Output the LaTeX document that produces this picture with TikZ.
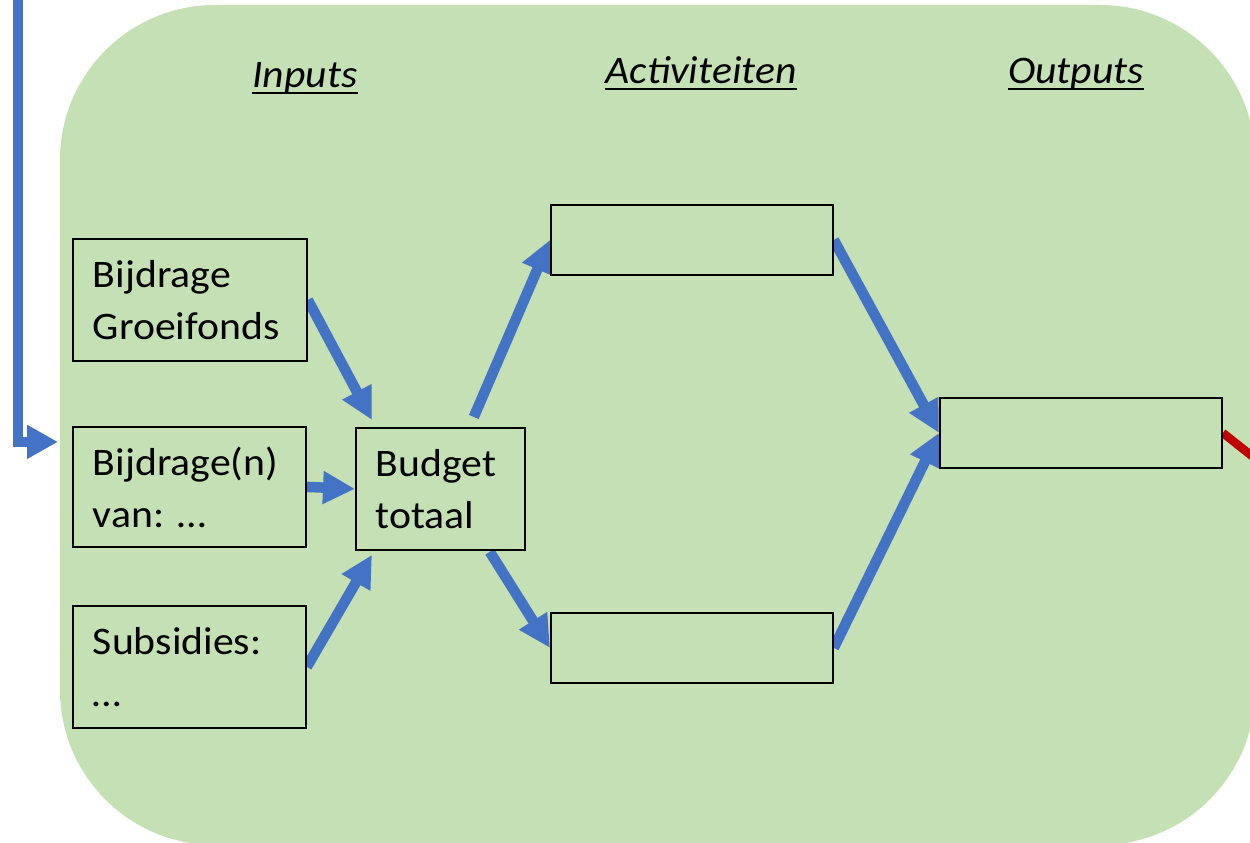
\documentclass[tikz,border=0pt]{standalone}
\usepackage{fontspec}
\setmainfont{Carlito}[FakeStretch=1.07]
\usetikzlibrary{arrows.meta,calc}
\definecolor{lgreen}{HTML}{C5E0B4}
\definecolor{mblue}{HTML}{4472C4}
\definecolor{dred}{HTML}{C00000}
\pgfdeclarelayer{back}
\pgfdeclarelayer{mid}
\pgfsetlayers{back,mid,main}
\begin{document}
\begin{tikzpicture}[x=1pt,y=-1pt,
  box/.style={draw=black,line width=1.8pt,fill=lgreen,anchor=north west,inner xsep=20pt,inner ysep=0pt,align=left,font=\fontsize{39}{52}\selectfont},
  arr/.style={draw=mblue,line width=10.5pt,-{Triangle[length=32pt,width=31pt]}},
  ttl/.style={font=\fontsize{39}{47}\selectfont\itshape,inner sep=0pt,anchor=base},
  uline/.style={draw=black,line width=2.2pt}]
\useasboundingbox (0,0) rectangle (1250,843);
\begin{pgfonlayer}{back}
\clip (0,0) rectangle (1250,843);
\fill[lgreen, rounded corners=155pt] (60,5) rectangle (1255,845);
\end{pgfonlayer}

% titles
\node[ttl] (ti) at (305,87) {Inputs};
\draw[uline] ($(ti.base west)+(0,6)$) -- ($(ti.base east)+(0,6)$);
\node[ttl] (ta) at (701,83) {Activiteiten};
\draw[uline] ($(ta.base west)+(0,6)$) -- ($(ta.base east)+(0,6)$);
\node[ttl] (to) at (1076,83) {Outputs};
\draw[uline] ($(to.base west)+(0,6)$) -- ($(to.base east)+(0,6)$);

% boxes
\node[box, minimum width=234pt, minimum height=122pt, text width=194pt] (g) at (72,238) {Bijdrage\\Groeifonds};
\node[box, minimum width=233pt, minimum height=120pt, text width=193pt] (b2) at (72,426) {Bijdrage(n)\\van:~…};
\node[box, minimum width=233pt, minimum height=122pt, text width=193pt] (s) at (72,605) {Subsidies:\\…};
\node[box, minimum width=169pt, minimum height=122pt, text width=129pt] (b) at (355,427) {Budget\\totaal};
\node[box, minimum width=282pt, minimum height=70pt, text width=242pt] (a1) at (550,204) {};
\node[box, minimum width=282pt, minimum height=70pt, text width=242pt] (a2) at (550,612) {};
\node[box, minimum width=282pt, minimum height=70pt, text width=242pt] (o) at (939,397) {};

\coordinate (fbtop) at (18,-20);
\coordinate (rend) at (1300,494);

\begin{pgfonlayer}{mid}
\clip (0,0) rectangle (1250,843);
\draw[arr] (g.east) -- ($(b.north west)+(17,-7)$);
\draw[arr] (b2.east) -- (b.west);
\draw[arr] (s.east) -- ($(b.south west)+(17,4)$);
\draw[arr] ($(b.north east)+(-52,-10)$) -- (a1.west);
\draw[arr] ($(b.south east)+(-36,1)$) -- (a2.west);
\draw[arr] (a1.east) -- (o.west);
\draw[arr] (a2.east) -- (o.west);
\draw[arr, line width=10.5pt, line join=miter, -{Triangle[length=31pt,width=32pt]}] (fbtop) |- ($(b2.west)+(-14,-45)$);
\draw[dred, line width=8.5pt] (o.east) -- (rend);
\end{pgfonlayer}
\end{tikzpicture}
\end{document}
